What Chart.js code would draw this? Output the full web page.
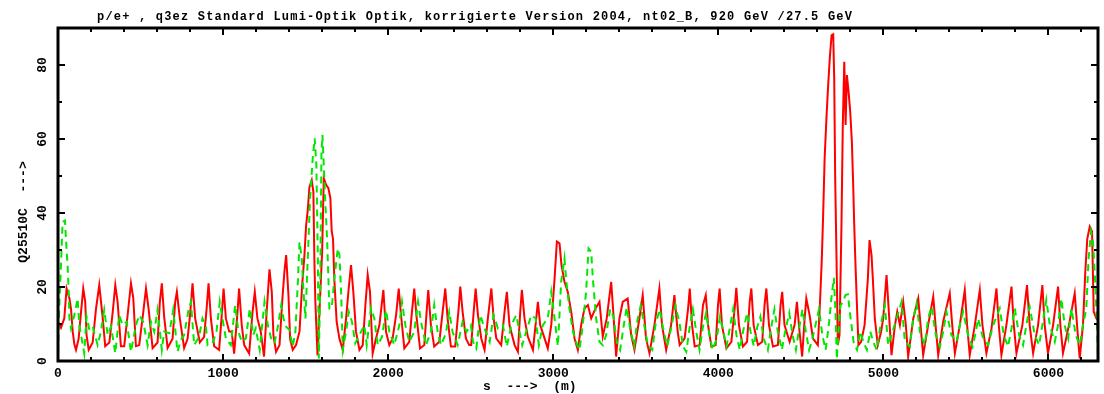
<!DOCTYPE html>
<html lang="de">
<head>
<meta charset="UTF-8">
<title>Lumi-Optik Optik</title>
<script src="https://cdn.jsdelivr.net/npm/chart.js"></script>
<style>
  html, body { margin: 0; padding: 0; background: #fff; }
  .chart-container { position: relative; width: 1104px; height: 394px; }
</style>
</head>
<body>
<div class="chart-container"><canvas id="optikChart"></canvas></div>
<script>
const TITLE = 'p/e+ , q3ez Standard Lumi-Optik Optik, korrigierte Version 2004, nt02_B, 920 GeV /27.5 GeV';
const X_TITLE = 's  --->  (m)';
const Y_TITLE = 'Q25510C  --->';

const X_MAX = 6300;
const Y_MAX = 90;
const xTicks = [0, 1000, 2000, 3000, 4000, 5000, 6000];
const yTicks = [0, 20, 40, 60, 80];

// red curve (solid)
const redX = [0,18,38,52,69,79,89,99,109,125,139,153,165,173,186,210,230,250,270,286,311,331,347,361,381,401,422,442,456,472,492,516,533,549,573,603,617,629,643,664,694,710,720,738,764,785,801,815,831,859,885,900,912,926,946,976,992,1003,1017,1037,1052,1067,1087,1097,1113,1128,1158,1178,1192,1208,1228,1248,
  1265,1281,1295,1305,1321,1342,1358,1372,1382,1396,1406,1422,1442,1463,1479,1493,1503,1513,1523,1537,1547,1553,1559,1572,1600,1610,1624,1638,1650,1658,1666,1674,1688,1705,1725,1745,1761,1775,1789,1805,1826,1846,1862,1876,1890,1906,1926,1947,1971,1987,2007,2027,2048,2064,2078,2098,2128,2144,2158,2173,2193,2219,2233,2243,2259,2279,2310,2330,2346,2360,2380,2406,2427,2437,2451,2471,2491,
  2503,2518,2530,2544,2564,2584,2604,2625,2639,2655,2685,2705,2719,2735,2766,2786,2800,2810,2826,2846,2877,2897,2907,2921,2941,2967,2988,3008,3022,3038,3050,3068,3088,3109,3129,3149,3169,3189,3210,3230,3256,3280,3300,3324,3351,3365,3381,3401,3421,3451,3472,3492,3522,3542,3562,3583,3613,3643,3659,3684,3714,3734,3754,
  3766,3796,3817,3827,3841,3857,3887,3907,3924,3938,3958,3984,3998,4008,4022,4049,4079,4099,4109,4125,4149,4174,4190,4200,4214,4240,4266,4280,4291,4307,4331,4361,4377,4387,4401,4432,4462,4476,4492,4508,4523,4533,4553,4573,4603,4617,4627,4635,4644,4656,4666,4676,4686,4696,4702,4708,4716,4724,4734,4746,4754,4763,4771,4779,4789,4799,4809,4817,4823,4831,4839,4849,4865,4886,4906,4916,4928,4936,4948,4966,4986,
  4999,5019,5033,5049,5070,5084,5100,5120,5136,5150,5181,5211,5225,5241,5271,5302,5316,5332,5362,5402,5417,5433,5463,5493,5507,5523,5554,5584,5600,5624,5655,5685,5699,5715,5745,5776,5790,5806,5842,5870,5886,5907,5937,5963,5977,5997,6028,6058,6072,6088,6124,6159,6173,6189,6209,6223,6235,6250,6264,6274,6290,6300];
const redY = [10.5,9,11.5,19.6,17,14,8,4.5,3,6,13,19.6,16,7,3,5,14,20.5,12,4,5,13,20.5,16,4,4,12.5,21,17,4,4.3,13,19.6,14,3.5,5,16,21,12,3.5,6,16,18.7,11.5,3.5,6,13,21,11.5,5,6.5,14,21,11.5,4,3,12.4,19.6,11.5,8,8,2,13,19.6,9.7,4.3,2,13,18.7,11.5,8,1.2,
  14,24.8,18.7,7,2.5,4.3,16,24.4,28.6,17.8,6,3,4.3,8,20.5,28.6,36.7,40.8,47,48.9,45.7,27.5,16,1.5,29.5,49.4,47.6,46.7,44,35,33,22,10.6,6,3,11.5,19.6,25.9,18.7,8,3,4.3,15,23.3,18.7,2,6,9.7,19.2,7.9,4.3,6.1,12.4,19.6,12.4,3.4,5.2,13.3,19.6,11.5,3.4,4.3,13.3,19.2,9.7,3.9,5.2,13.3,19.6,11.5,3.9,3.9,14.2,20.1,13.3,6.1,4.3,
  4.3,13.3,19.6,12.4,6.1,3,11.5,19.6,11.5,6.1,4.3,13.3,18.7,9.7,4.3,2.5,13.3,19.2,11.5,6.6,3,11.5,16,9.7,7,3.4,9.7,22.2,32.3,31.8,25.9,21.4,18.7,13.3,6.1,3,9.7,14.2,15.1,11.5,14.2,16,6.6,11.5,21.4,12.4,1.2,11.5,16,16.9,7,3,11.5,17.8,6.1,2.1,9.7,19.6,9.7,3,9.7,17.8,7.9,
  4.3,6.1,14.2,19.6,9.7,3.9,4.3,15.1,17.8,9.7,3.9,4.3,15.1,19.6,9.7,3.4,5.2,14.2,19.8,9.7,3.9,5.2,16,19.6,9.7,4.3,5.2,15.1,19.6,9.7,3.9,4.3,15.1,18.7,9.7,5.2,9.7,16,7.9,1.2,11.5,16.9,12.4,6.1,4.3,16.9,27.7,39.4,54.8,66.6,75,82.3,88,88.3,76.4,49.4,27.8,4.3,7,36.7,63.8,80.9,63.8,77.3,72.8,67.4,59.3,47.6,37.2,26,16,4.3,5.2,9.7,22.3,32.7,28.6,22.3,11.5,4.3,7.9,
  11.5,23.2,13.3,1.6,9.7,13.3,9.7,16,9.7,1.2,11.5,16.9,9.7,1.6,9.7,17.4,9.7,1.6,10.6,18.3,9.7,2.1,9.7,19.2,9.7,1.6,9.7,19.2,9.7,2.1,8.8,19.6,9.7,1.6,9.7,20.1,9.7,2.1,9.7,20.5,9.7,2.1,9.7,20.5,9.7,2.1,9.7,20.1,9.7,2.1,9.7,18.3,9.7,0.7,9.7,24.1,33,36.3,35,13.3,11.5,11];

// green curve (dashed)
const greenX = [0,8,18,28,42,52,58,65,69,79,99,119,129,145,159,173,190,210,240,260,280,301,321,347,371,391,416,442,472,492,516,543,563,583,603,629,643,674,698,724,744,764,791,805,825,855,875,896,906,936,960,980,996,1017,1047,1073,1093,1113,1138,1162,1182,1198,1222,
  1251,1271,1291,1311,1332,1352,1366,1382,1402,1422,1438,1453,1463,1477,1487,1499,1513,1527,1543,1555,1565,1574,1580,1588,1596,1602,1610,1618,1630,1644,1658,1674,1695,1705,1715,1725,1745,1761,1781,1801,1826,1856,1870,1896,1916,1937,1963,1987,2007,2037,2068,2084,2104,2128,2158,2181,2199,2229,2259,2279,2300,2320,2350,2370,2390,2421,2451,2475,
  2501,2514,2534,2558,2584,2615,2639,2665,2695,2719,2746,2776,2812,2836,2867,2893,2913,2937,2967,2988,3008,3028,3048,3068,3078,3098,3119,3139,3159,3179,3199,3214,3230,3240,3260,3280,3300,3320,3345,3365,3385,3405,3425,3445,3465,3490,3510,3530,3550,3575,3600,3620,3645,3665,3690,3715,3740,
  3766,3786,3806,3826,3846,3866,3886,3906,3926,3946,3966,3990,4010,4030,4050,4070,4090,4110,4130,4150,4175,4195,4215,4235,4255,4275,4300,4320,4340,4360,4385,4405,4430,4450,4470,4490,4510,4530,4550,4570,4590,4610,4630,4650,4670,4685,4700,4710,4718,4728,4740,4755,4770,4785,4800,4820,4840,4860,4880,4900,4920,4940,4960,4980,
  5009,5029,5049,5080,5110,5130,5160,5181,5201,5221,5251,5271,5291,5318,5342,5362,5382,5412,5443,5463,5483,5513,5540,5560,5574,5604,5634,5665,5705,5729,5755,5776,5796,5822,5846,5866,5886,5917,5943,5963,5987,6008,6038,6058,6078,6098,6119,6139,6165,6189,6209,6229,6243,6258,6270,6282,6290,6300];
const greenY = [2,15,26,37.6,38,30,26,18.7,11.5,8.8,12.4,16.9,9.7,5.6,2.1,12,8.4,9.3,4.3,7.9,13.8,7,9.3,2.1,12.4,9.7,10.6,2.5,9.7,12.4,10.6,4.3,10.6,7.9,13.8,3,7.9,7.5,13.8,2.5,5.7,7,13.8,16,4.3,6.6,11.5,9.3,4.3,4.8,7.9,16,11.5,6.1,4.3,15.1,7.9,5.2,6.1,14.2,7,8.8,3,
  16,9.7,6.1,4.8,9.3,15.1,11.5,9.3,8.4,3.9,7.9,21.4,32.2,27.7,18.7,11.5,27.7,44,54.8,60.2,53,27.7,0.7,18.7,56.6,61.1,53,44,33.1,14.2,14.2,22.3,30.4,28.6,18.7,3,7.9,13.3,10.6,4.8,7,9.7,4.3,14.2,11.5,4.3,6.6,13.8,7.9,4.3,9.7,16,9.7,5.2,7.9,16,10.6,4.3,7.9,15.1,7.9,4.3,7.5,13.3,7.9,4.3,10.6,7.9,
  9.7,5.2,3.4,12.4,8.8,5.2,12.4,8.8,9.7,3.9,9.7,12.4,4.3,7.9,12.4,11.5,4.3,9.7,11.5,18.7,11.5,4,21.4,27.7,22,14.2,8,5,3,9.7,18.7,30.4,29.5,22.3,11.5,5.2,4.3,7,14,12,5,3,9,14.5,9,4,11,15,10,4,3,10,14,9,4,9,15,
  10,4,2.5,9,14,8,3,9,13,7,3,6,12,8,4,9,14,7,3,8,13,8,4,9,12,6,3,9,14,8,3,8,13,7,3,9,14,8,3,6,10,14,7,3,10,17,22.5,13,0.5,8,15,16,17.8,18,12,5,3,8,5,3,8,5,3,9,
  15,4.3,7,11.5,16,5.2,3.9,11.5,15.6,7.9,4.3,11.5,14.7,7,3.9,7.9,13.3,7,5.2,9.7,13.3,7,3.9,7.9,11.5,6.1,4.3,9.7,14.2,7,3.9,8.8,14.2,7,4.3,9.7,14.7,7,4.3,9.7,16.5,9.7,5.2,9.7,16.9,9.7,6.1,14.2,7,4.3,9.7,14.2,27.7,35,32.2,22.3,14.2,1.6];

const toPoints = (xs, ys) => xs.map((x, i) => ({ x: x, y: ys[i] }));

const MONO = '"Liberation Mono", "DejaVu Sans Mono", monospace';

// frame, inward tick marks and the free-standing texts
const framePlugin = {
  id: 'frame',
  afterDatasetsDraw(chart) {
    const { ctx, chartArea: a, scales } = chart;
    const sx = scales.x, sy = scales.y;
    ctx.save();
    ctx.strokeStyle = '#000';
    ctx.lineWidth = 2;
    ctx.beginPath();
    for (let v = 0; v <= X_MAX; v += 200) {
      const px = Math.round(sx.getPixelForValue(v));
      const len = v % 1000 === 0 ? 7 : 4;
      ctx.moveTo(px, a.bottom); ctx.lineTo(px, a.bottom - len);
      ctx.moveTo(px, a.top); ctx.lineTo(px, a.top + len);
    }
    for (let v = 0; v <= Y_MAX; v += 10) {
      const py = Math.round(sy.getPixelForValue(v));
      const len = v % 20 === 0 ? 7 : 4;
      ctx.moveTo(a.left, py); ctx.lineTo(a.left + len, py);
      ctx.moveTo(a.right, py); ctx.lineTo(a.right - len, py);
    }
    ctx.stroke();
    ctx.lineWidth = 3;
    ctx.strokeRect(a.left, a.top, a.right - a.left, a.bottom - a.top);

    ctx.fillStyle = '#000';
    ctx.font = 'bold 12px ' + MONO;
    ctx.letterSpacing = '1.2px';
    ctx.textBaseline = 'alphabetic';
    ctx.textAlign = 'left';
    ctx.fillText(TITLE, 97, 20);

    ctx.font = 'bold 13px ' + MONO;
    ctx.letterSpacing = '0px';
    ctx.fillText(X_TITLE, 483, 390);

    ctx.translate(27, 212);
    ctx.rotate(-Math.PI / 2);
    ctx.textAlign = 'center';
    ctx.fillText(Y_TITLE, 0, 0);
    ctx.restore();
  }
};

new Chart(document.getElementById('optikChart'), {
  type: 'line',
  data: {
    datasets: [
      {
        label: 'green',
        data: toPoints(greenX, greenY),
        borderColor: '#00e800',
        borderWidth: 2,
        borderDash: [7, 5],
        pointRadius: 0,
        tension: 0,
        fill: false
      },
      {
        label: 'red',
        data: toPoints(redX, redY),
        borderColor: '#ff0000',
        borderWidth: 2,
        pointRadius: 0,
        tension: 0,
        fill: false
      }
    ]
  },
  options: {
    responsive: true,
    maintainAspectRatio: false,
    animation: false,
    events: [],
    layout: { padding: { top: 28, right: 6, left: 0, bottom: 0 } },
    plugins: { legend: { display: false }, title: { display: false }, tooltip: { enabled: false } },
    scales: {
      x: {
        type: 'linear',
        min: 0,
        max: X_MAX,
        grid: { display: false, drawTicks: false },
        border: { display: false },
        afterBuildTicks: s => { s.ticks = xTicks.map(v => ({ value: v })); },
        afterFit: s => { s.height = 33; },
        ticks: {
          color: '#000',
          padding: 5,
          maxRotation: 0,
          autoSkip: false,
          font: { family: MONO, size: 13, weight: 'bold' },
          callback: v => String(v)
        }
      },
      y: {
        type: 'linear',
        min: 0,
        max: Y_MAX,
        grid: { display: false, drawTicks: false },
        border: { display: false },
        afterBuildTicks: s => { s.ticks = yTicks.map(v => ({ value: v })); },
        afterFit: s => { s.width = 58; },
        ticks: {
          color: '#000',
          padding: 7,
          minRotation: 90,
          maxRotation: 90,
          crossAlign: 'center',
          autoSkip: false,
          font: { family: MONO, size: 13, weight: 'bold' },
          callback: v => String(v)
        }
      }
    }
  },
  plugins: [framePlugin]
});
</script>
</body>
</html>
